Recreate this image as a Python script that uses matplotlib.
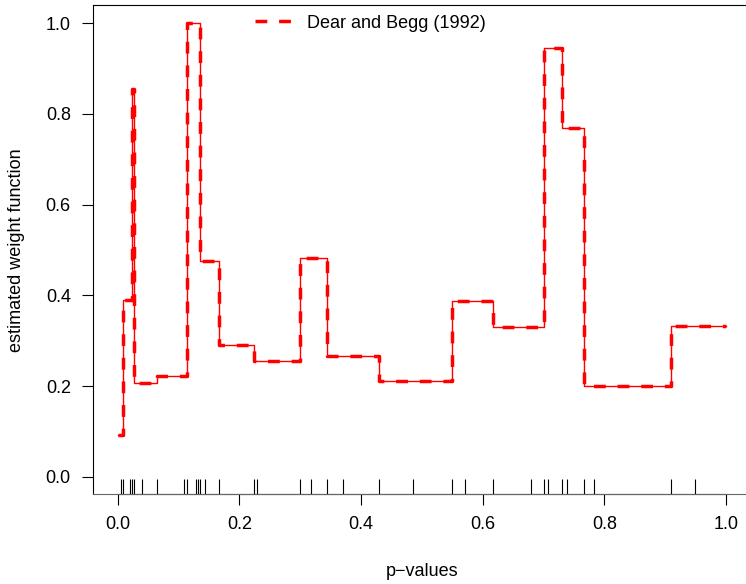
import matplotlib
matplotlib.use("Agg")
import matplotlib.pyplot as plt
import numpy as np

plt.rcParams["font.family"] = ["Liberation Sans", "DejaVu Sans"]

# observed p-values (rug)
pvals = [0.0049, 0.0092, 0.0202, 0.0230, 0.0273, 0.0394, 0.0651, 0.1094, 0.1144,
         0.1282, 0.1315, 0.1352, 0.1435, 0.1670, 0.2245, 0.2284, 0.2996, 0.3172,
         0.3435, 0.3708, 0.4294, 0.4848, 0.5489, 0.5708, 0.6163, 0.6787, 0.7006,
         0.7067, 0.7297, 0.7379, 0.7663, 0.7832, 0.9104, 0.9487]

# step function: left edge of each step and its height
breaks = [0.0, 0.0092, 0.0230, 0.0273, 0.0651, 0.1144, 0.1352, 0.1670, 0.2245,
          0.2996, 0.3435, 0.4294, 0.5489, 0.6163, 0.7006, 0.7297, 0.7663, 0.9104, 1.0]
weights = [0.093, 0.390, 0.855, 0.207, 0.221, 1.000, 0.475, 0.290, 0.255,
           0.483, 0.266, 0.211, 0.387, 0.330, 0.945, 0.769, 0.201, 0.332, 0.332]

W, H = 746, 584
fig = plt.figure(figsize=(W / 100, H / 100), dpi=100)
ax = fig.add_axes([93 / W, (H - 494) / H, (W - 93) / W, (494 - 5) / H])

ax.plot(breaks, weights, drawstyle="steps-post", color="red", lw=1.0)
ax.plot(breaks, weights, drawstyle="steps-post", color="red", lw=2.5,
        dashes=(3.4, 3.4), label="Dear and Begg (1992)")

ax.vlines(pvals, 0, 0.03, transform=ax.get_xaxis_transform(), color="black", lw=0.8)

ax.set_xlim(-0.0406, 1.0329)
ax.set_ylim(-0.0382, 1.0404)
ax.set_xticks(np.arange(0, 1.01, 0.2))
ax.set_yticks(np.arange(0, 1.01, 0.2))
ax.set_xticklabels(["0.0", "0.2", "0.4", "0.6", "0.8", "1.0"])
ax.set_yticklabels(["0.0", "0.2", "0.4", "0.6", "0.8", "1.0"])
ax.tick_params(axis="both", labelsize=13, length=8, width=0.8, color="black")
ax.tick_params(axis="y", pad=8)
ax.tick_params(axis="x", pad=8)

for s in ["left", "top"]:
    ax.spines[s].set_color("black")
    ax.spines[s].set_linewidth(0.8)
ax.spines["right"].set_visible(False)
ax.spines["bottom"].set_color("#666666")
ax.spines["bottom"].set_linewidth(0.8)
ax.plot([0, 1], [0, 0], transform=ax.get_xaxis_transform(), color="black",
        lw=0.8, clip_on=False)

fig.text(422 / W, 1 - 572 / H, "p\u2212values", ha="center", va="center", fontsize=13)
fig.text(17 / W, 1 - 250 / H, "estimated weight function", ha="center", va="center",
         rotation=90, fontsize=13)

fig.legend(loc="center left", bbox_to_anchor=(255 / W, 1 - 23 / H), frameon=False,
           borderpad=0, borderaxespad=0, handlelength=2.05, handletextpad=0.85,
           fontsize=13)

fig.savefig("out.png", dpi=100)
